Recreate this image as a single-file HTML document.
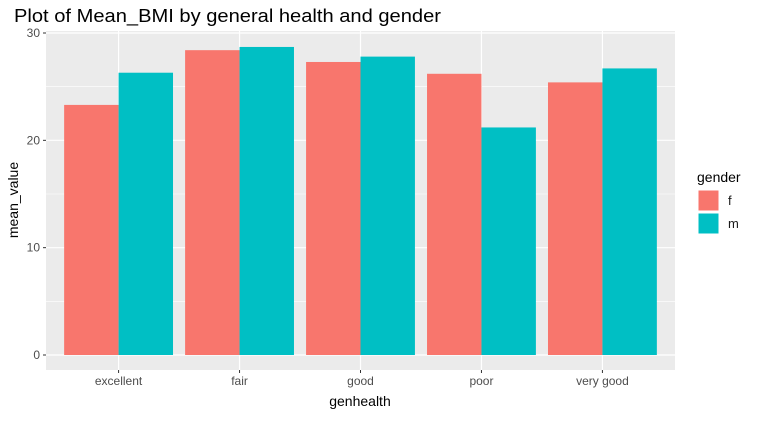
<!DOCTYPE html>
<html><head><meta charset="utf-8"><style>
body{margin:0;background:#fff;font-family:"Liberation Sans",Arial,sans-serif}
</style></head><body>
<svg width="757" height="416" font-family="Liberation Sans, Arial, sans-serif">
<text x="14" y="22" font-size="18" textLength="427" lengthAdjust="spacingAndGlyphs" fill="#000">Plot of Mean_BMI by general health and gender</text>
<rect x="46" y="31" width="629" height="339" fill="#EBEBEB"/>
<g id="grid"></g>
<g id="bars"></g>
<g id="axes"></g>
<text transform="translate(18,200) rotate(-90)" text-anchor="middle" font-size="14" fill="#000">mean_value</text>
<text x="360" y="406" text-anchor="middle" font-size="14" fill="#000">genhealth</text>
<g>
<text x="697" y="182" font-size="14" fill="#000">gender</text>
<rect x="698" y="190" width="21" height="21" fill="#F8766D" stroke="#fff"/>
<rect x="698" y="213" width="21" height="21" fill="#00BFC4" stroke="#fff"/>
<text x="728" y="205" font-size="13" fill="#1a1a1a">f</text>
<text x="728" y="228" font-size="13" fill="#1a1a1a">m</text>
</g>
</svg>
<script>
const categories=["excellent","fair","good","poor","very good"];
const femaleValues=[23.3,28.4,27.3,26.2,25.4];
const maleValues=[26.3,28.7,27.8,21.2,26.7];
const yTicks=[0,10,20,30];
const NS="http://www.w3.org/2000/svg";
const L=46,R=675,T=31,B=370;
const unit=(R-L)/(categories.length+0.2);
const xC=i=>L+(i+0.6)*unit;
const y=v=>355-v*(322/30);
function mk(tag,attrs,parent){const e=document.createElementNS(NS,tag);for(const k in attrs)e.setAttribute(k,attrs[k]);document.getElementById(parent).appendChild(e);return e;}
for(let k=0;k<yTicks.length-1;k++){const v=(yTicks[k]+yTicks[k+1])/2;
 const g=mk('line',{x1:L,x2:R,y1:y(v),y2:y(v),stroke:'#fff','stroke-width':0.6},'grid');
 
 }
yTicks.forEach(t=>{const g=mk('line',{x1:L,x2:R,y1:y(t),y2:y(t),stroke:'#fff','stroke-width':1.2},'grid');
 
 
 const tk=mk('line',{x1:L-3,x2:L,y1:y(t),y2:y(t),stroke:'#333'},'axes');
 
 
 const tx=mk('text',{x:L-6,y:y(t)+4,'text-anchor':'end','font-size':12,fill:'#4D4D4D'},'axes');tx.textContent=t;
 
 });
categories.forEach((c,i)=>{const x=xC(i);
 const g=mk('line',{x1:x,x2:x,y1:T,y2:B,stroke:'#fff','stroke-width':1.2},'grid');
 
 
 const w=unit*0.45;
 const bf=mk('rect',{x:x-w,y:y(femaleValues[i]),width:w,height:y(0)-y(femaleValues[i]),fill:'#F8766D'},'bars');
 
 
 const bm=mk('rect',{x:x,y:y(maleValues[i]),width:w,height:y(0)-y(maleValues[i]),fill:'#00BFC4'},'bars');
 
 
 const tk=mk('line',{x1:x,x2:x,y1:B,y2:B+3,stroke:'#333'},'axes');
 
 
 const tx=mk('text',{x:x,y:B+15,'text-anchor':'middle','font-size':12,fill:'#4D4D4D'},'axes');tx.textContent=c;
 
 });
</script>
</body></html>
